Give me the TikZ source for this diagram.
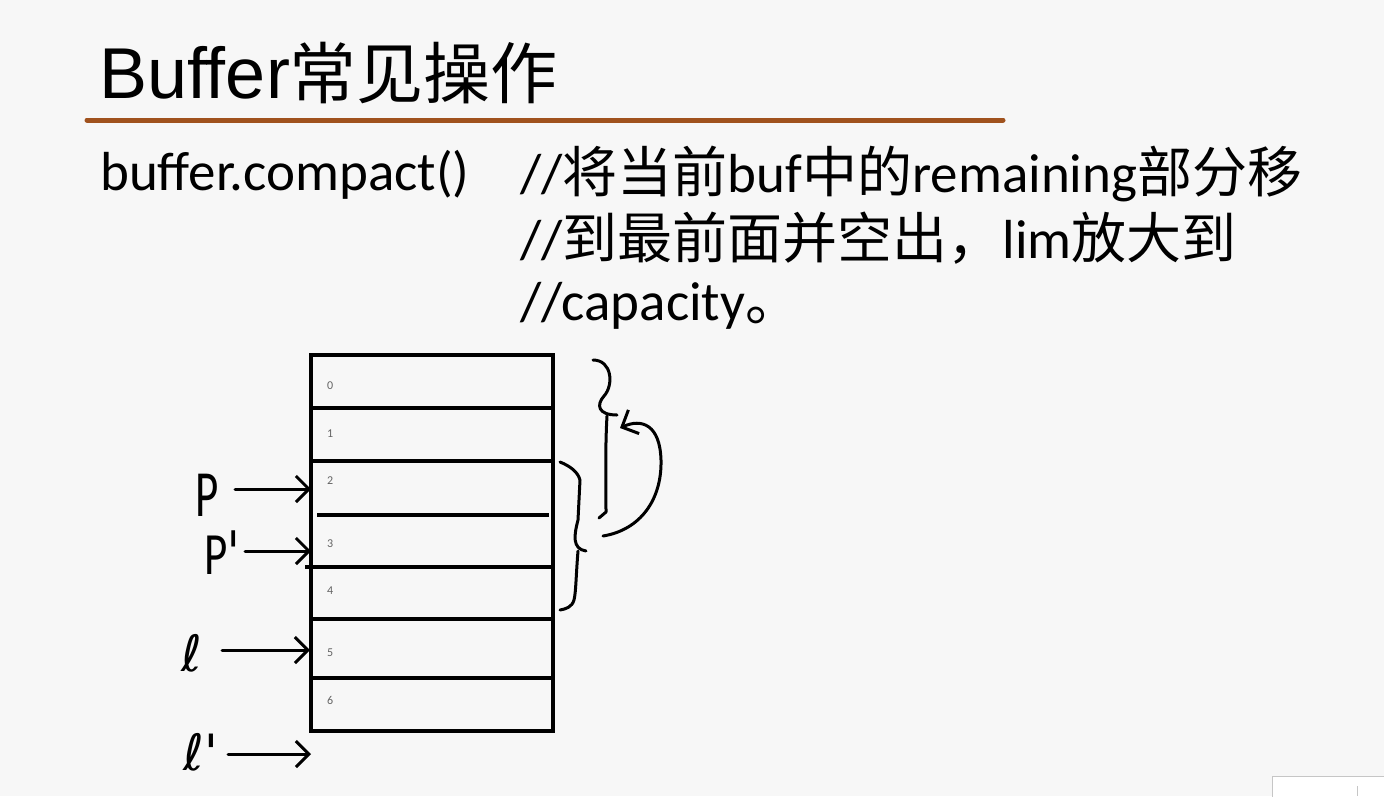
\documentclass[tikz,border=0pt]{standalone}
\usepackage{fontspec}
\setmainfont{Carlito}
\newfontfamily\titlefont{Liberation Sans}
\newfontfamily\cjk{Noto Sans CJK SC}
\newfontfamily\djv{DejaVu Sans}
\usetikzlibrary{arrows.meta}
\definecolor{bg}{RGB}{247,247,247}
\definecolor{rulecol}{RGB}{160,82,30}
\definecolor{idxcol}{RGB}{100,100,100}
\newcommand{\zh}[1]{{\cjk #1}}
\begin{document}
\begin{tikzpicture}[x=1pt,y=-1pt,
  body/.style={anchor=base west, inner sep=0pt, font=\fontsize{55}{55}\selectfont},
  idx/.style={anchor=base west, inner sep=0pt, text=idxcol, font=\fontsize{12}{12}\selectfont},
  cell/.style={line width=3.5pt},
  hand/.style={line width=3pt, line cap=round, line join=round},
  harrow/.style={hand, -{Straight Barb[length=13pt,width=26pt,line width=3pt]}},
  lab/.style={inner sep=0pt, font=\fontsize{60}{60}\selectfont}]
\fill[bg] (0,0) rectangle (1384,796);
\useasboundingbox (0,0) rectangle (1384,796);
% title
\node[anchor=base west, inner sep=0pt] (title) at (99,98)
  {{\titlefont\fontsize{72}{72}\selectfont Buffer}{\cjk\fontsize{67}{67}\selectfont 常见操作}};
\coordinate (r1) at (87,120);
\coordinate (r2) at (1003,120);
\draw[rulecol, line width=5pt, line cap=round] (r1) -- (r2);
% body text
\node[body] (call) at (100,190) {buffer.compact()};
\node[body] (c1) at (520,192) {//\zh{将当前}buf\zh{中的}remaining\zh{部分移}};
\node[body] (c2) at (520,258) {//\zh{到最前面并空出，}lim\zh{放大到}};
\node[body] (c3) at (520,320) {//capacity\zh{。}};
% buffer
\node[draw, line width=3.5pt, minimum width=242pt, minimum height=376pt, inner sep=0pt] (buf) at (432,543) {};
\draw[cell] (311,408) -- (553,408);
\draw[cell] (311,461) -- (553,461);
\draw[cell] (317,515) -- (549,515);
\draw[cell] (305,567) -- (553,567);
\draw[cell] (311,619) -- (553,619);
\draw[cell] (311,678) -- (553,678);
\node[idx] (n0) at (327,389) {0};
\node[idx] (n1) at (327,437) {1};
\node[idx] (n2) at (327,484) {2};
\node[idx] (n3) at (327,547) {3};
\node[idx] (n4) at (327,594) {4};
\node[idx] (n5) at (327,656) {5};
\node[idx] (n6) at (327,704) {6};
% labels and arrows
\node[lab] (P) at (207,495) {\scalebox{0.75}[1.1]{P}};
\node[lab] (P2) at (222,553) {\scalebox{0.75}[1.0]{P{\djv '}}};
\node[lab, font=\djv\fontsize{50}{50}\selectfont] (L) at (192,653) {ℓ};
\node[lab, font=\djv\fontsize{50}{50}\selectfont] (L2) at (201,752) {ℓ'};
\coordinate (pa) at (235,489);   \coordinate (pb) at (311,489);
\coordinate (qa) at (245,551);   \coordinate (qb) at (311,551);
\coordinate (la) at (222,650);   \coordinate (lb) at (310,650);
\coordinate (ma) at (228,754);   \coordinate (mb) at (311,754);
\draw[harrow] (pa) -- (pb);
\draw[harrow] (qa) -- (qb);
\draw[harrow] (la) -- (lb);
\draw[harrow] (ma) -- (mb);
% upper brace
\draw[hand] (593,360) .. controls (612,360) and (614,385) .. (604,396)
  .. controls (596,405) and (598,415) .. (617,415);
\draw[hand] (607,416) .. controls (605,450) and (606,490) .. (606,512) -- (599,518);
% lower brace
\draw[hand] (560,462) .. controls (570,466) and (578,472) .. (580,480) -- (578,520)
  .. controls (574,535) and (572,549) .. (586,551);
\draw[hand] (578,551) .. controls (576,575) and (576,592) .. (574,600)
  .. controls (572,607) and (566,609) .. (560,610);
% curved arrow
\coordinate (ca) at (603,536);
\coordinate (cb) at (620,428);
\draw[harrow] (ca) .. controls (640,530) and (662,500) .. (661,460)
  .. controls (660,425) and (642,418) .. (cb);
% corner widget
\draw[gray!45, fill=white] (1272,776) rectangle (1392,804);
\draw[gray!45] (1357,786) -- (1357,796);
\end{tikzpicture}
\end{document}
